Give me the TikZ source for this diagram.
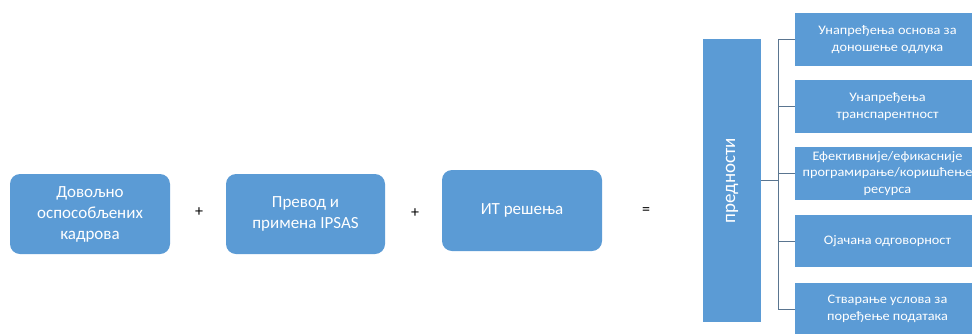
\documentclass[tikz,border=0pt]{standalone}
\usepackage{fontspec}
\setmainfont{Carlito}
\newfontfamily\widefont[FakeStretch=1.1]{Carlito}
\definecolor{boxblue}{HTML}{5B9BD5}
\definecolor{linec}{HTML}{5A7590}
\begin{document}
\begin{tikzpicture}[x=1pt,y=-1pt,
  rbox/.style={fill=boxblue, draw=none, rounded corners=10pt, text=white, align=center,
    font=\fontsize{17}{21}\selectfont, inner sep=0pt},
  sbox/.style={fill=boxblue, draw=none, text=white, align=center,
    font=\widefont\fontsize{13}{16.5}\selectfont, inner sep=0pt},
  op/.style={font=\fontsize{16}{18}\selectfont, text=black},
  conn/.style={draw=linec, line width=0.8pt}]
\useasboundingbox (0,0) rectangle (972,333);
\clip (0,0) rectangle (972,333);
% left boxes
\node[rbox, minimum width=160pt, minimum height=80pt] (a) at (90,214) {Довољно\\оспособљених\\кадрова};
\node[rbox, minimum width=159pt, minimum height=80pt] (b) at (305.5,214) {Превод и\\примена IPSAS};
\node[rbox, minimum width=160pt, minimum height=81pt] (c) at (522,210.5) {ИТ решења};
\node[op] (p1) at (199,212) {+};
\node[op] (p2) at (415,213) {+};
\node[op] (eq) at (646,211) {=};
% tall box
\node[fill=boxblue, minimum width=58pt, minimum height=283pt, inner sep=0pt] (t) at (732,180.5) {};
\node[rotate=90, text=white, font=\fontsize{19}{20}\selectfont] (tl) at (t.center) {предности};
% right boxes
\node[sbox, minimum width=185pt, minimum height=53pt] (r1) at (887.5,39.5) {Унапређења основа за\\доношење одлука};
\node[sbox, minimum width=185pt, minimum height=53pt] (r2) at (887.5,106.5) {Унапређења\\транспарентност};
\node[sbox, minimum width=185pt, minimum height=53pt] (r3) at (887.5,173.5) {Ефективније/ефикасније\\програмирање/коришћење\\ресурса};
\node[sbox, minimum width=185pt, minimum height=52pt] (r4) at (887.5,241) {Ојачана одговорност};
\node[sbox, minimum width=185pt, minimum height=52pt] (r5) at (887.5,309) {Стварање услова за\\поређење података};
% connectors
\coordinate (top) at (778,39.5);
\coordinate (bot) at (778,309);
\coordinate (mid) at (778,180.5);
\draw[conn] (t.east |- mid) -- (mid);
\draw[conn] (top) -- (bot);
\foreach \r in {r1,r2,r3,r4,r5} {
  \draw[conn] (top |- \r.west) -- (\r.west);
}
\end{tikzpicture}
\end{document}
